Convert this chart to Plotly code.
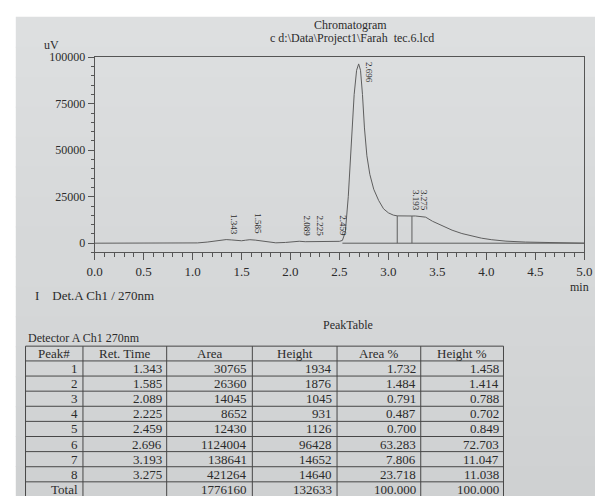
import numpy as np
import plotly.graph_objects as go

W, H = 603, 496

# Detector trace: retention time (min) and signal (uV)
time_min = [0.00, 0.50, 0.90, 1.05, 1.15, 1.25, 1.30, 1.343, 1.40, 1.46, 1.50, 1.54,
            1.585, 1.64, 1.70, 1.78, 1.85, 1.95, 2.03, 2.089, 2.15, 2.225, 2.30, 2.38,
            2.459, 2.50, 2.53, 2.56, 2.59, 2.62, 2.65, 2.675, 2.696, 2.715, 2.735,
            2.755, 2.78, 2.81, 2.85, 2.90, 2.95, 3.00, 3.05, 3.09, 3.13, 3.193, 3.24,
            3.275, 3.32, 3.38, 3.45, 3.55, 3.65, 3.75, 3.85, 3.95, 4.05, 4.20, 4.40,
            4.60, 4.80, 5.00]
signal_uv = [0, 0, 0, 150, 600, 1400, 1800, 1934, 1750, 1350, 1300, 1600,
             1876, 1650, 1150, 500, 200, 400, 800, 1045, 800, 931, 800, 850,
             1126, 1000, 1500, 6000, 25000, 55000, 80000, 93000, 96428, 93000, 80000,
             62000, 47000, 37000, 29000, 23000, 18500, 16300, 15100, 14700, 14600, 14652, 14620,
             14640, 14400, 14000, 11800, 9200, 7000, 5200, 3800, 2700, 1900, 1100, 600,
             300, 100, 0]

# Integration baseline and peak boundaries (min)
baseline_span = [2.53, 5.00]
drop_times = [3.09, 3.24]

# Peak table
peak_no = [1, 2, 3, 4, 5, 6, 7, 8]
ret_time = [1.343, 1.585, 2.089, 2.225, 2.459, 2.696, 3.193, 3.275]
area = [30765, 26360, 14045, 8652, 12430, 1124004, 138641, 421264]
height = [1934, 1876, 1045, 931, 1126, 96428, 14652, 14640]
area_pct = [1.732, 1.484, 0.791, 0.487, 0.700, 63.283, 7.806, 23.718]
height_pct = [1.458, 1.414, 0.788, 0.702, 0.849, 72.703, 11.047, 11.038]
total_area = 1776160
total_height = 132633
table_header = ["Peak#", "Ret. Time", "Area", "Height", "Area %", "Height %"]

paper_top = (221, 223, 224)
paper_bottom = (207, 209, 210)
ink = "#2b2b2b"
line_c = "#555555"
trace_c = "#5e5e5e"
rule_c = "#474747"
serif = "Liberation Serif"


def px_x(p):
    return p / W


def px_y(p):
    return 1 - p / H


fig = go.Figure()

fig.add_trace(go.Scatter(x=time_min, y=signal_uv, mode="lines",
                         line=dict(color=trace_c, width=1), hoverinfo="skip"))

# baseline under the main peak group
fig.add_trace(go.Scatter(x=baseline_span, y=[0, 0], mode="lines",
                         line=dict(color=trace_c, width=1)))

# drop lines separating overlapping peaks
for t in drop_times:
    v = float(np.interp(t, time_min, signal_uv))
    fig.add_trace(go.Scatter(x=[t, t], y=[0, v], mode="lines",
                             line=dict(color=trace_c, width=1)))

# retention-time labels above each peak
for rt, h in zip(ret_time, height):
    if h > 90000:
        fig.add_annotation(x=rt, y=100000, xref="x", yref="y", text=f"{rt:.3f}",
                           textangle=90, showarrow=False, xanchor="left", yanchor="top",
                           xshift=4, yshift=-3, font=dict(family=serif, size=9, color=ink))
    else:
        fig.add_annotation(x=rt, y=h, xref="x", yref="y", text=f"{rt:.3f}",
                           textangle=90, showarrow=False, xanchor="left", yanchor="bottom",
                           xshift=1, yshift=3, font=dict(family=serif, size=9, color=ink))

# ---- paper sheet: light grey, a touch darker towards the bottom ----
shapes = []
n_bands = 16
top_px, left_px = 10, 8
band_h = (H - top_px) / n_bands
for k in range(n_bands):
    f = k / (n_bands - 1)
    r, g, b = [round(a + (c - a) * f) for a, c in zip(paper_top, paper_bottom)]
    shapes.append(dict(type="rect", xref="paper", yref="paper", x0=px_x(left_px), x1=1,
                       y0=px_y(top_px + band_h * (k + 1)) - 0.002,
                       y1=px_y(top_px + band_h * k),
                       fillcolor=f"rgb({r},{g},{b})", line=dict(width=0), layer="below"))

# ---- peak table (ruled grid + right-aligned figures) ----
fmt3 = lambda v: f"{v:.3f}"
cols = [
    [str(n) for n in peak_no] + ["Total"],
    [fmt3(v) for v in ret_time] + [""],
    [str(v) for v in area] + [str(total_area)],
    [str(v) for v in height] + [str(total_height)],
    [fmt3(v) for v in area_pct] + ["100.000"],
    [fmt3(v) for v in height_pct] + ["100.000"],
]
col_edges = [18, 77, 163, 251, 338, 424, 509]
table_top, header_h, row_h = 344, 15, 15.33
n_rows = len(cols[0])
row_edges = [table_top, table_top + header_h] + \
    [table_top + header_h + row_h * (i + 1) for i in range(n_rows)]

for yy in row_edges:
    if yy <= H:
        shapes.append(dict(type="line", xref="paper", yref="paper",
                           x0=px_x(col_edges[0]), x1=px_x(col_edges[-1]),
                           y0=px_y(yy), y1=px_y(yy), line=dict(color=rule_c, width=1)))
for xx in col_edges:
    shapes.append(dict(type="line", xref="paper", yref="paper", x0=px_x(xx), x1=px_x(xx),
                       y0=px_y(table_top), y1=0, line=dict(color=rule_c, width=1)))

cell_font = dict(family=serif, size=13, color=ink)
for j, name in enumerate(table_header):
    fig.add_annotation(x=px_x((col_edges[j] + col_edges[j + 1]) / 2),
                       y=px_y(table_top + header_h / 2), xref="paper", yref="paper",
                       text=name, showarrow=False, xanchor="center", yanchor="middle",
                       font=cell_font)
for j, column in enumerate(cols):
    for i, val in enumerate(column):
        if not val:
            continue
        yc = table_top + header_h + row_h * (i + 0.5)
        fig.add_annotation(x=px_x(col_edges[j + 1] - 3), y=px_y(yc), xref="paper", yref="paper",
                           text=val, showarrow=False, xanchor="right", yanchor="middle",
                           font=cell_font)

fig.update_layout(
    width=W, height=H,
    margin=dict(l=0, r=0, t=0, b=0),
    paper_bgcolor="white",
    plot_bgcolor="rgba(0,0,0,0)",
    showlegend=False,
    xaxis=dict(domain=[px_x(89), px_x(592)], range=[0, 5.0], showgrid=False, zeroline=False,
               showline=True, linecolor=line_c, linewidth=1, mirror=True,
               ticks="outside", ticklen=7, tickcolor=line_c, dtick=0.5, tick0=0,
               tickformat=".1f", tickfont=dict(family=serif, size=13, color=ink),
               minor=dict(dtick=0.1, ticks="outside", ticklen=4, tickcolor=line_c)),
    yaxis=dict(domain=[px_y(249), px_y(51)], range=[-5000, 100000], showgrid=False,
               zeroline=False, showline=True, linecolor=line_c, linewidth=1, mirror=True,
               ticks="outside", ticklen=6, tickcolor=line_c,
               tickvals=[0, 25000, 50000, 75000, 100000],
               ticktext=["0", "25000", "50000", "75000", "100000"],
               tickfont=dict(family=serif, size=12, color=ink),
               minor=dict(dtick=5000, ticks="outside", ticklen=3, tickcolor=line_c)),
    shapes=shapes,
)

texts = [
    ("Chromatogram", 352, 18, 12, "center"),
    ("c d:\\Data\\Project1\\Farah  tec.6.lcd", 353, 31, 12, "center"),
    ("uV", 45, 39, 12, "center"),
    ("min", 587, 284, 12, "center"),
    ("I&nbsp;&nbsp;&nbsp;&nbsp;Det.A Ch1 / 270nm", 26, 293, 13, "left"),
    ("PeakTable", 349, 323, 12, "center"),
    ("Detector A Ch1 270nm", 19, 336, 12, "left"),
]
for txt, x, y, s, anc in texts:
    fig.add_annotation(x=px_x(x), y=px_y(y), xref="paper", yref="paper", text=txt,
                       showarrow=False, xanchor=anc, yanchor="middle",
                       font=dict(family=serif, size=s, color=ink))

fig.write_html("out.html")
